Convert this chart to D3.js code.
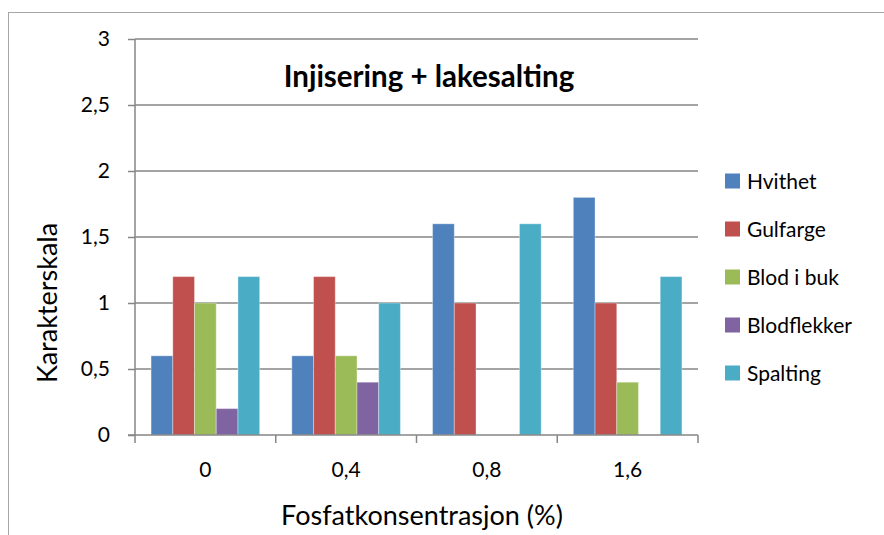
<!DOCTYPE html>
<html><head><meta charset="utf-8">
<script src="https://d3js.org/d3.v7.min.js"></script>
<style>
body{margin:0;background:#fff;}
text{font-family:Lato, "Open Sans", sans-serif;fill:#000;}
</style></head>
<body><svg id="c" width="884" height="535"></svg>
<script>
const categories = ["0", "0,4", "0,8", "1,6"];
const seriesNames = ["Hvithet", "Gulfarge", "Blod i buk", "Blodflekker", "Spalting"];
const hvithet = [0.6, 0.6, 1.6, 1.8];
const gulfarge = [1.2, 1.2, 1.0, 1.0];
const blodIBuk = [1.0, 0.6, 0, 0.4];
const blodflekker = [0.2, 0.4, 0, 0];
const spalting = [1.2, 1.0, 1.6, 1.2];
const colors = ["#4F81BD", "#C0504D", "#9BBB59", "#8064A2", "#4BACC6"];
const yTicks = [0, 0.5, 1, 1.5, 2, 2.5, 3];
const yTickLabels = ["0", "0,5", "1", "1,5", "2", "2,5", "3"];
const title = "Injisering + lakesalting";
const xTitle = "Fosfatkonsentrasjon (%)";
const yTitle = "Karakterskala";

const seriesValues = [hvithet, gulfarge, blodIBuk, blodflekker, spalting];
const svg = d3.select("#c");

// outer chart border
svg.append("rect").attr("x", 8.5).attr("y", 12.5).attr("width", 900).attr("height", 600)
  .attr("fill", "none").attr("stroke", "#a6a6a6").attr("stroke-width", 1);

const L = 135, R = 698, T = 39, B = 435;
const x0 = d3.scaleBand().domain(categories).range([L, R]).paddingInner(0).paddingOuter(0);
const x1 = d3.scaleBand().domain(seriesNames).range([0, x0.bandwidth()]).paddingInner(0).paddingOuter(0.74);
const y = d3.scaleLinear().domain([0, 3]).range([B, T]);

// gridlines
svg.append("g").selectAll("line").data(yTicks.filter(d => d > 0)).join("line")
  .attr("x1", L).attr("x2", R).attr("y1", d => y(d)).attr("y2", d => y(d))
  .attr("stroke", "#868686").attr("stroke-width", 1.5);

// bars
const g = svg.append("g");
categories.forEach((c, i) => {
  seriesNames.forEach((s, j) => {
    const v = seriesValues[j][i];
    if (v <= 0) return;
    g.append("rect")
      .attr("x", x0(c) + x1(s)).attr("width", x1.bandwidth())
      .attr("y", y(v)).attr("height", y(0) - y(v))
      .attr("fill", colors[j])
      .attr("stroke", "rgba(255,255,255,0.35)").attr("stroke-width", 1);
  });
});

// y axis
const yAxis = d3.axisLeft(y).tickValues(yTicks).tickFormat((d, i) => yTickLabels[i]).tickSize(7).tickPadding(18);
const ya = svg.append("g").attr("transform", `translate(${L},0)`).call(yAxis);
ya.select(".domain").attr("stroke", "#868686").attr("stroke-width", 1.5).attr("d", `M0,${T}V${B}`);
ya.selectAll(".tick line").attr("stroke", "#868686").attr("stroke-width", 1.5);
ya.selectAll(".tick text").attr("font-size", 21).attr("font-family", "Lato, sans-serif").attr("fill", "#000");

// x axis
const xa = svg.append("g").attr("transform", `translate(0,${B})`);
xa.append("line").attr("x1", L - 7).attr("x2", R).attr("y1", 0).attr("y2", 0)
  .attr("stroke", "#868686").attr("stroke-width", 1.5);
const bounds = categories.map(c => x0(c)).concat([R]);
xa.selectAll("line.t").data(bounds).join("line").attr("class", "t")
  .attr("x1", d => d).attr("x2", d => d).attr("y1", 0).attr("y2", 8)
  .attr("stroke", "#868686").attr("stroke-width", 1.5);
xa.selectAll("text").data(categories).join("text")
  .attr("x", d => x0(d) + x0.bandwidth() / 2).attr("y", 42)
  .attr("text-anchor", "middle").attr("font-size", 21).text(d => d);

// titles
svg.append("text").attr("x", 429).attr("y", 87).attr("text-anchor", "middle")
  .attr("font-size", 29.5).attr("font-weight", "bold").text(title);
svg.append("text").attr("x", 422).attr("y", 525).attr("text-anchor", "middle")
  .attr("font-size", 27).text(xTitle);
svg.append("text").attr("transform", "translate(57,303) rotate(-90)").attr("text-anchor", "middle")
  .attr("font-size", 27).text(yTitle);

// legend
const lg = svg.append("g");
seriesNames.forEach((s, j) => {
  const cy = 181 + j * 48;
  lg.append("rect").attr("x", 725).attr("y", cy - 7.5).attr("width", 15).attr("height", 15).attr("fill", colors[j]);
  lg.append("text").attr("x", 747).attr("y", cy + 7.5).attr("font-size", 21).text(s);
});
</script></body></html>
